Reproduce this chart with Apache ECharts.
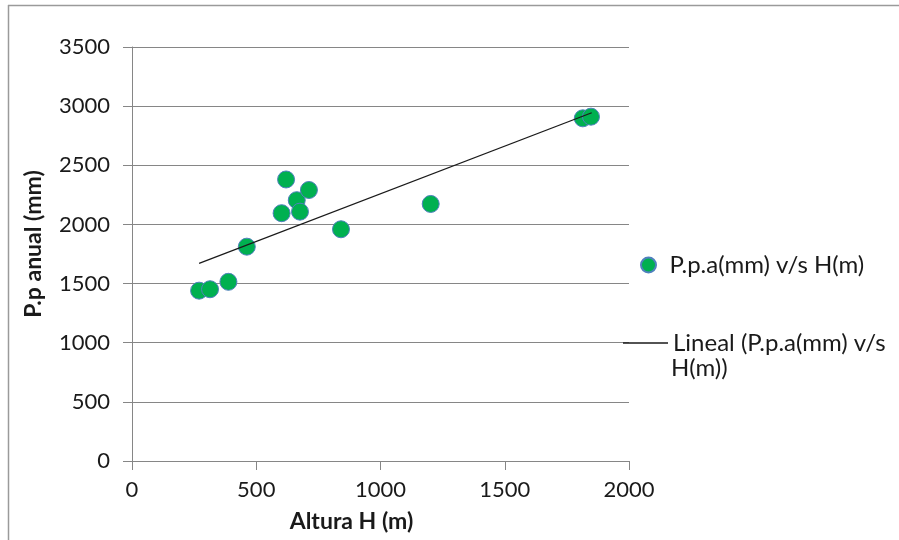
<!DOCTYPE html>
<html><head><meta charset="utf-8">
<script src="https://cdn.jsdelivr.net/npm/echarts@6/dist/echarts.min.js"></script>
<style>html,body{margin:0;padding:0;background:#fff}#c{width:899px;height:540px}</style>
</head><body><div id="c"></div>
<script>
const altura = [270, 314, 388, 462, 602, 620, 663, 676, 712, 841, 1202, 1814, 1847];
const precip = [1440, 1452, 1515, 1812, 2095, 2380, 2205, 2108, 2291, 1959, 2173, 2897, 2911];
const trendX = [270, 1850];
const trendY = [1671, 2944];
const xTicks = [0, 500, 1000, 1500, 2000];
const yTicks = [0, 500, 1000, 1500, 2000, 2500, 3000, 3500];
const s1 = 'P.p.a(mm) v/s H(m)';
const s2 = 'Lineal (P.p.a(mm) v/s H(m))';
const s2line1 = 'Lineal (P.p.a(mm) v/s';
const s2line2 = 'H(m))';

const font = 'Lato, "Open Sans", sans-serif';
const chart = echarts.init(document.getElementById('c'), null, {renderer: 'canvas'});
chart.setOption({
  animation: false,
  backgroundColor: '#fff',
  textStyle: {fontFamily: font},
  grid: {left: 132, right: 270, top: 47, bottom: 79, containLabel: false},
  xAxis: {
    type: 'value', min: xTicks[0], max: xTicks[xTicks.length-1], interval: 500,
    name: 'Altura H (m)', nameLocation: 'middle', nameGap: 49,
    nameTextStyle: {fontFamily: font, fontWeight: 'bold', fontSize: 23, color: '#1a1a1a',
      padding: [0, 58, 0, 0]},
    axisLine: {show: true, onZero: false, lineStyle: {color: '#868686', width: 1}},
    axisTick: {show: true, length: 9, inside: false, lineStyle: {color: '#868686', width: 1}},
    axisLabel: {fontFamily: font, fontSize: 22, color: '#1a1a1a', margin: 18,
      formatter: v => String(v)},
    splitLine: {show: false}
  },
  yAxis: {
    type: 'value', min: yTicks[0], max: yTicks[yTicks.length-1], interval: 500,
    name: 'P.p anual (mm)', nameLocation: 'middle', nameGap: 87, nameRotate: 90,
    nameTextStyle: {fontFamily: font, fontWeight: 'bold', fontSize: 23, color: '#1a1a1a',
      padding: [0, 0, 0, 20]},
    axisLine: {show: true, onZero: false, lineStyle: {color: '#868686', width: 1}},
    axisTick: {show: true, length: 9, inside: false, lineStyle: {color: '#868686', width: 1}},
    axisLabel: {fontFamily: font, fontSize: 22, color: '#1a1a1a', margin: 22,
      formatter: v => String(v)},
    splitLine: {show: true, lineStyle: {color: '#868686', width: 1}}
  },
  legend: [
    {
      data: [{name: s1, icon: 'circle'}], orient: 'vertical', left: 635, top: 248,
      itemWidth: 32, itemHeight: 15, itemGap: 10,
      textStyle: {fontFamily: font, fontSize: 24, color: '#1a1a1a'}
    },
    {
      data: [{name: s2, icon: 'rect'}], orient: 'vertical', left: 618, top: 326,
      itemWidth: 45, itemHeight: 1.5, itemGap: 10,
      formatter: () => s2line1,
      textStyle: {fontFamily: font, fontSize: 24, color: '#1a1a1a'},
      itemStyle: {color: '#1a1a1a'}
    }
  ],
  graphic: [
    {type: 'line', shape: {x1: 8, y1: 5.5, x2: 899, y2: 5.5},
      style: {stroke: '#9a9a9a', lineWidth: 1.5}, silent: true},
    {type: 'line', shape: {x1: 8.5, y1: 5, x2: 8.5, y2: 540},
      style: {stroke: '#9a9a9a', lineWidth: 1.5}, silent: true},
    {type: 'text', left: 671, top: 356, silent: true,
      style: {text: s2line2, font: '24px ' + font, fill: '#1a1a1a'}}
  ],
  series: [
    {
      name: s1, type: 'scatter', symbol: 'circle', symbolSize: 17,
      itemStyle: {color: '#00B050', borderColor: '#4F81BD', borderWidth: 1, opacity: 1},
      data: altura.map((x, i) => [x, precip[i]]), z: 3
    },
    {
      name: s2, type: 'line', symbol: 'none', showSymbol: false,
      lineStyle: {color: '#1a1a1a', width: 1.3},
      itemStyle: {color: '#1a1a1a'},
      data: trendX.map((x, i) => [x, trendY[i]]), z: 4
    }
  ]
});
</script></body></html>
